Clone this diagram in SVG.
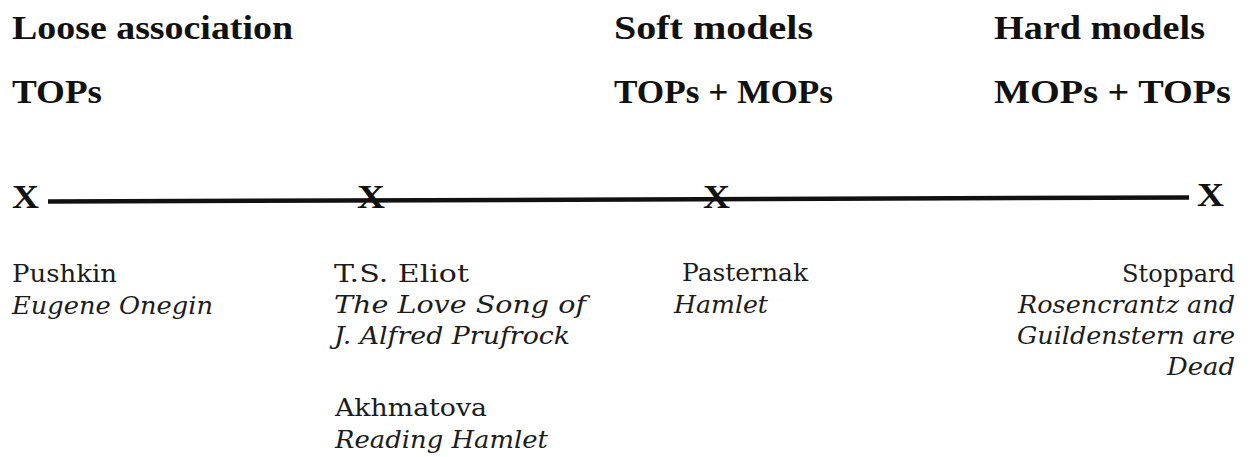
<svg xmlns="http://www.w3.org/2000/svg" width="1252" height="457" viewBox="0 0 1252 457">
  <style>
    .head { font-family: "Liberation Serif", "Times New Roman", serif; font-weight: bold; font-size: 33px; fill: #111; }
    .mark { font-family: "Liberation Serif", "Times New Roman", serif; font-weight: bold; font-size: 34px; fill: #111; }
    .name { font-family: "DejaVu Serif", "Liberation Serif", serif; font-size: 24.5px; fill: #1c1c1c; }
    .work { font-family: "DejaVu Serif", "Liberation Serif", serif; font-style: italic; font-size: 24.5px; fill: #1c1c1c; }
    .axis { stroke: #111; stroke-width: 4.5; stroke-linecap: butt; fill: none; }
  </style>

  <rect width="1252" height="457" fill="#ffffff"/>

  <!-- column headings -->
  <g id="heading-loose">
    <text class="head" x="12" y="39" textLength="281" lengthAdjust="spacingAndGlyphs">Loose association</text>
    <text class="head" x="12" y="103" textLength="90" lengthAdjust="spacingAndGlyphs">TOPs</text>
  </g>
  <g id="heading-soft">
    <text class="head" x="614" y="39" textLength="199" lengthAdjust="spacingAndGlyphs">Soft models</text>
    <text class="head" x="614" y="103" textLength="219" lengthAdjust="spacingAndGlyphs">TOPs + MOPs</text>
  </g>
  <g id="heading-hard">
    <text class="head" x="994" y="39" textLength="211" lengthAdjust="spacingAndGlyphs">Hard models</text>
    <text class="head" x="994" y="103" textLength="237" lengthAdjust="spacingAndGlyphs">MOPs + TOPs</text>
  </g>

  <!-- the axis line -->
  <g id="connectors">
    <line class="axis" x1="48" y1="201.5" x2="1189" y2="197.5"/>
  </g>

  <!-- points on the axis -->
  <g id="point-1"><text class="mark" x="12" y="208" textLength="27" lengthAdjust="spacingAndGlyphs">X</text></g>
  <g id="point-2"><text class="mark" x="357" y="208" textLength="28" lengthAdjust="spacingAndGlyphs">X</text></g>
  <g id="point-3"><text class="mark" x="703" y="208" textLength="27" lengthAdjust="spacingAndGlyphs">X</text></g>
  <g id="point-4"><text class="mark" x="1197" y="206" textLength="27" lengthAdjust="spacingAndGlyphs">X</text></g>

  <!-- works placed under each point -->
  <g id="pushkin">
    <text class="name" x="12" y="282" textLength="105" lengthAdjust="spacingAndGlyphs">Pushkin</text>
    <text class="work" x="12" y="314" textLength="201" lengthAdjust="spacingAndGlyphs">Eugene Onegin</text>
  </g>
  <g id="eliot">
    <text class="name" x="334" y="282" textLength="135" lengthAdjust="spacingAndGlyphs">T.S. Eliot</text>
    <text class="work" x="334" y="313" textLength="252" lengthAdjust="spacingAndGlyphs">The Love Song of</text>
    <text class="work" x="334" y="344" textLength="236" lengthAdjust="spacingAndGlyphs">J. Alfred Prufrock</text>
  </g>
  <g id="akhmatova">
    <text class="name" x="335" y="416" textLength="152" lengthAdjust="spacingAndGlyphs">Akhmatova</text>
    <text class="work" x="335" y="448" textLength="213" lengthAdjust="spacingAndGlyphs">Reading Hamlet</text>
  </g>
  <g id="pasternak">
    <text class="name" x="682" y="281" textLength="126" lengthAdjust="spacingAndGlyphs">Pasternak</text>
    <text class="work" x="674" y="313" textLength="94" lengthAdjust="spacingAndGlyphs">Hamlet</text>
  </g>
  <g id="stoppard">
    <text class="name" x="1122" y="282" textLength="113" lengthAdjust="spacingAndGlyphs">Stoppard</text>
    <text class="work" x="1018" y="313" textLength="217" lengthAdjust="spacingAndGlyphs">Rosencrantz and</text>
    <text class="work" x="1017" y="344" textLength="218" lengthAdjust="spacingAndGlyphs">Guildenstern are</text>
    <text class="work" x="1167" y="375" textLength="68" lengthAdjust="spacingAndGlyphs">Dead</text>
  </g>
</svg>
